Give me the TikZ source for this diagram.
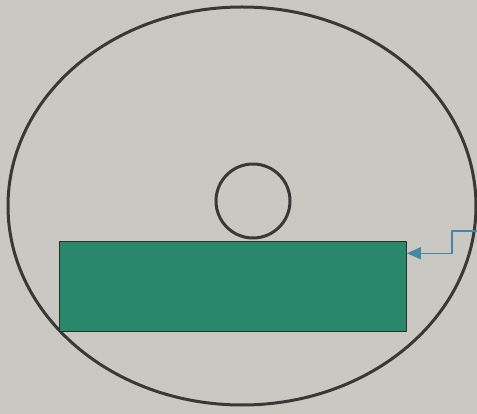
\documentclass[tikz,border=0pt]{standalone}
\usepackage{tikz}
\usetikzlibrary{arrows.meta,calc}

\definecolor{paper}{RGB}{202,200,194}
\definecolor{ink}{RGB}{58,56,54}
\definecolor{plategreen}{RGB}{42,136,106}
\definecolor{feedblue}{RGB}{72,134,166}

\begin{document}
\begin{tikzpicture}[x=1pt, y=-1pt, line cap=round, line join=round]
  % Paper background fixes the size
  \fill[paper] (0,0) rectangle (477,414);
  \useasboundingbox (0,0) rectangle (477,414);

  % Outer ellipse
  \coordinate (O) at (242,206);
  \draw[ink, line width=3pt] (O) ellipse[x radius=234, y radius=199];

  % Small circle sitting on the plate
  \node[circle, draw=ink, line width=3pt, minimum size=74pt, inner sep=0pt] (hole) at (253,201) {};

  % Green plate
  \node[draw=ink!80!black, fill=plategreen, line width=0.8pt, minimum width=347pt, minimum height=90pt, inner sep=0pt, anchor=north west] (plate) at (59,241) {};

  % Feed arrow coming in from the right
  \coordinate (feed) at (478,231);
  \coordinate (bend) at (452,231);
  \draw[feedblue, line width=1.1pt, -{Triangle[length=14pt,width=12pt]}]
    (feed) -- (bend) |- ($(plate.north east)!0.135!(plate.south east)$);
\end{tikzpicture}
\end{document}
